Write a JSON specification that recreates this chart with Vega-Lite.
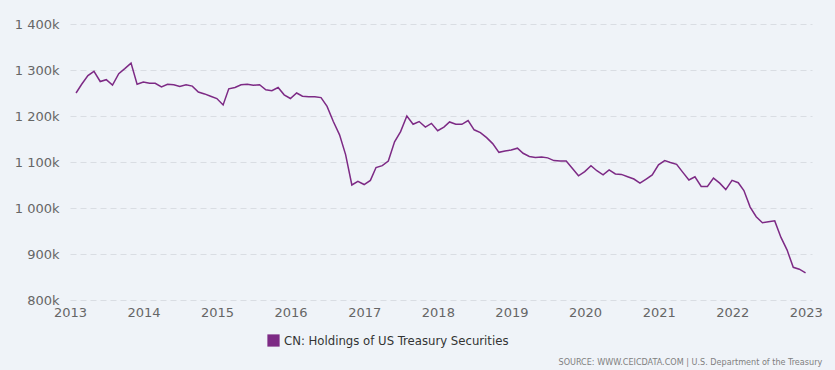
{
  "$schema": "https://vega.github.io/schema/vega-lite/v6.json",
  "width": 742,
  "height": 276,
  "padding": {"left": 70, "top": 24, "right": 23, "bottom": 70},
  "autosize": "none",
  "background": "#eff3f8",
  "title": {
    "text": "SOURCE: WWW.CEICDATA.COM | U.S. Department of the Treasury",
    "orient": "bottom",
    "anchor": "end",
    "font": "DejaVu Sans Condensed",
    "fontSize": 9,
    "fontWeight": "normal",
    "color": "#7f7f7f",
    "offset": 10
  },
  "data": {
    "values": [
      {"date": "2013-01-31", "value": 1250, "series": "CN: Holdings of US Treasury Securities"},
      {"date": "2013-02-28", "value": 1269, "series": "CN: Holdings of US Treasury Securities"},
      {"date": "2013-03-31", "value": 1288, "series": "CN: Holdings of US Treasury Securities"},
      {"date": "2013-04-30", "value": 1297, "series": "CN: Holdings of US Treasury Securities"},
      {"date": "2013-05-31", "value": 1275, "series": "CN: Holdings of US Treasury Securities"},
      {"date": "2013-06-30", "value": 1279, "series": "CN: Holdings of US Treasury Securities"},
      {"date": "2013-07-31", "value": 1267, "series": "CN: Holdings of US Treasury Securities"},
      {"date": "2013-08-31", "value": 1292, "series": "CN: Holdings of US Treasury Securities"},
      {"date": "2013-09-30", "value": 1303, "series": "CN: Holdings of US Treasury Securities"},
      {"date": "2013-10-31", "value": 1315, "series": "CN: Holdings of US Treasury Securities"},
      {"date": "2013-11-30", "value": 1269, "series": "CN: Holdings of US Treasury Securities"},
      {"date": "2013-12-31", "value": 1274, "series": "CN: Holdings of US Treasury Securities"},
      {"date": "2014-01-31", "value": 1271, "series": "CN: Holdings of US Treasury Securities"},
      {"date": "2014-02-28", "value": 1271, "series": "CN: Holdings of US Treasury Securities"},
      {"date": "2014-03-31", "value": 1263, "series": "CN: Holdings of US Treasury Securities"},
      {"date": "2014-04-30", "value": 1269, "series": "CN: Holdings of US Treasury Securities"},
      {"date": "2014-05-31", "value": 1268, "series": "CN: Holdings of US Treasury Securities"},
      {"date": "2014-06-30", "value": 1264, "series": "CN: Holdings of US Treasury Securities"},
      {"date": "2014-07-31", "value": 1268, "series": "CN: Holdings of US Treasury Securities"},
      {"date": "2014-08-31", "value": 1265, "series": "CN: Holdings of US Treasury Securities"},
      {"date": "2014-09-30", "value": 1252, "series": "CN: Holdings of US Treasury Securities"},
      {"date": "2014-10-31", "value": 1248, "series": "CN: Holdings of US Treasury Securities"},
      {"date": "2014-11-30", "value": 1243, "series": "CN: Holdings of US Treasury Securities"},
      {"date": "2014-12-31", "value": 1238, "series": "CN: Holdings of US Treasury Securities"},
      {"date": "2015-01-31", "value": 1224, "series": "CN: Holdings of US Treasury Securities"},
      {"date": "2015-02-28", "value": 1259, "series": "CN: Holdings of US Treasury Securities"},
      {"date": "2015-03-31", "value": 1262, "series": "CN: Holdings of US Treasury Securities"},
      {"date": "2015-04-30", "value": 1268, "series": "CN: Holdings of US Treasury Securities"},
      {"date": "2015-05-31", "value": 1269, "series": "CN: Holdings of US Treasury Securities"},
      {"date": "2015-06-30", "value": 1267, "series": "CN: Holdings of US Treasury Securities"},
      {"date": "2015-07-31", "value": 1268, "series": "CN: Holdings of US Treasury Securities"},
      {"date": "2015-08-31", "value": 1257, "series": "CN: Holdings of US Treasury Securities"},
      {"date": "2015-09-30", "value": 1255, "series": "CN: Holdings of US Treasury Securities"},
      {"date": "2015-10-31", "value": 1262, "series": "CN: Holdings of US Treasury Securities"},
      {"date": "2015-11-30", "value": 1246, "series": "CN: Holdings of US Treasury Securities"},
      {"date": "2015-12-31", "value": 1238, "series": "CN: Holdings of US Treasury Securities"},
      {"date": "2016-01-31", "value": 1250, "series": "CN: Holdings of US Treasury Securities"},
      {"date": "2016-02-29", "value": 1243, "series": "CN: Holdings of US Treasury Securities"},
      {"date": "2016-03-31", "value": 1242, "series": "CN: Holdings of US Treasury Securities"},
      {"date": "2016-04-30", "value": 1242, "series": "CN: Holdings of US Treasury Securities"},
      {"date": "2016-05-31", "value": 1240, "series": "CN: Holdings of US Treasury Securities"},
      {"date": "2016-06-30", "value": 1221, "series": "CN: Holdings of US Treasury Securities"},
      {"date": "2016-07-31", "value": 1188, "series": "CN: Holdings of US Treasury Securities"},
      {"date": "2016-08-31", "value": 1159, "series": "CN: Holdings of US Treasury Securities"},
      {"date": "2016-09-30", "value": 1116, "series": "CN: Holdings of US Treasury Securities"},
      {"date": "2016-10-31", "value": 1050, "series": "CN: Holdings of US Treasury Securities"},
      {"date": "2016-11-30", "value": 1058, "series": "CN: Holdings of US Treasury Securities"},
      {"date": "2016-12-31", "value": 1051, "series": "CN: Holdings of US Treasury Securities"},
      {"date": "2017-01-31", "value": 1060, "series": "CN: Holdings of US Treasury Securities"},
      {"date": "2017-02-28", "value": 1088, "series": "CN: Holdings of US Treasury Securities"},
      {"date": "2017-03-31", "value": 1092, "series": "CN: Holdings of US Treasury Securities"},
      {"date": "2017-04-30", "value": 1102, "series": "CN: Holdings of US Treasury Securities"},
      {"date": "2017-05-31", "value": 1144, "series": "CN: Holdings of US Treasury Securities"},
      {"date": "2017-06-30", "value": 1166, "series": "CN: Holdings of US Treasury Securities"},
      {"date": "2017-07-31", "value": 1200, "series": "CN: Holdings of US Treasury Securities"},
      {"date": "2017-08-31", "value": 1182, "series": "CN: Holdings of US Treasury Securities"},
      {"date": "2017-09-30", "value": 1188, "series": "CN: Holdings of US Treasury Securities"},
      {"date": "2017-10-31", "value": 1176, "series": "CN: Holdings of US Treasury Securities"},
      {"date": "2017-11-30", "value": 1184, "series": "CN: Holdings of US Treasury Securities"},
      {"date": "2017-12-31", "value": 1168, "series": "CN: Holdings of US Treasury Securities"},
      {"date": "2018-01-31", "value": 1176, "series": "CN: Holdings of US Treasury Securities"},
      {"date": "2018-02-28", "value": 1187, "series": "CN: Holdings of US Treasury Securities"},
      {"date": "2018-03-31", "value": 1182, "series": "CN: Holdings of US Treasury Securities"},
      {"date": "2018-04-30", "value": 1182, "series": "CN: Holdings of US Treasury Securities"},
      {"date": "2018-05-31", "value": 1190, "series": "CN: Holdings of US Treasury Securities"},
      {"date": "2018-06-30", "value": 1170, "series": "CN: Holdings of US Treasury Securities"},
      {"date": "2018-07-31", "value": 1164, "series": "CN: Holdings of US Treasury Securities"},
      {"date": "2018-08-31", "value": 1153, "series": "CN: Holdings of US Treasury Securities"},
      {"date": "2018-09-30", "value": 1140, "series": "CN: Holdings of US Treasury Securities"},
      {"date": "2018-10-31", "value": 1121, "series": "CN: Holdings of US Treasury Securities"},
      {"date": "2018-11-30", "value": 1124, "series": "CN: Holdings of US Treasury Securities"},
      {"date": "2018-12-31", "value": 1126, "series": "CN: Holdings of US Treasury Securities"},
      {"date": "2019-01-31", "value": 1130, "series": "CN: Holdings of US Treasury Securities"},
      {"date": "2019-02-28", "value": 1119, "series": "CN: Holdings of US Treasury Securities"},
      {"date": "2019-03-31", "value": 1112, "series": "CN: Holdings of US Treasury Securities"},
      {"date": "2019-04-30", "value": 1110, "series": "CN: Holdings of US Treasury Securities"},
      {"date": "2019-05-31", "value": 1111, "series": "CN: Holdings of US Treasury Securities"},
      {"date": "2019-06-30", "value": 1109, "series": "CN: Holdings of US Treasury Securities"},
      {"date": "2019-07-31", "value": 1103, "series": "CN: Holdings of US Treasury Securities"},
      {"date": "2019-08-31", "value": 1102, "series": "CN: Holdings of US Treasury Securities"},
      {"date": "2019-09-30", "value": 1102, "series": "CN: Holdings of US Treasury Securities"},
      {"date": "2019-10-31", "value": 1086, "series": "CN: Holdings of US Treasury Securities"},
      {"date": "2019-11-30", "value": 1070, "series": "CN: Holdings of US Treasury Securities"},
      {"date": "2019-12-31", "value": 1079, "series": "CN: Holdings of US Treasury Securities"},
      {"date": "2020-01-31", "value": 1092, "series": "CN: Holdings of US Treasury Securities"},
      {"date": "2020-02-29", "value": 1081, "series": "CN: Holdings of US Treasury Securities"},
      {"date": "2020-03-31", "value": 1072, "series": "CN: Holdings of US Treasury Securities"},
      {"date": "2020-04-30", "value": 1083, "series": "CN: Holdings of US Treasury Securities"},
      {"date": "2020-05-31", "value": 1074, "series": "CN: Holdings of US Treasury Securities"},
      {"date": "2020-06-30", "value": 1073, "series": "CN: Holdings of US Treasury Securities"},
      {"date": "2020-07-31", "value": 1068, "series": "CN: Holdings of US Treasury Securities"},
      {"date": "2020-08-31", "value": 1063, "series": "CN: Holdings of US Treasury Securities"},
      {"date": "2020-09-30", "value": 1054, "series": "CN: Holdings of US Treasury Securities"},
      {"date": "2020-10-31", "value": 1063, "series": "CN: Holdings of US Treasury Securities"},
      {"date": "2020-11-30", "value": 1072, "series": "CN: Holdings of US Treasury Securities"},
      {"date": "2020-12-31", "value": 1094, "series": "CN: Holdings of US Treasury Securities"},
      {"date": "2021-01-31", "value": 1103, "series": "CN: Holdings of US Treasury Securities"},
      {"date": "2021-02-28", "value": 1099, "series": "CN: Holdings of US Treasury Securities"},
      {"date": "2021-03-31", "value": 1095, "series": "CN: Holdings of US Treasury Securities"},
      {"date": "2021-04-30", "value": 1078, "series": "CN: Holdings of US Treasury Securities"},
      {"date": "2021-05-31", "value": 1061, "series": "CN: Holdings of US Treasury Securities"},
      {"date": "2021-06-30", "value": 1068, "series": "CN: Holdings of US Treasury Securities"},
      {"date": "2021-07-31", "value": 1047, "series": "CN: Holdings of US Treasury Securities"},
      {"date": "2021-08-31", "value": 1047, "series": "CN: Holdings of US Treasury Securities"},
      {"date": "2021-09-30", "value": 1065, "series": "CN: Holdings of US Treasury Securities"},
      {"date": "2021-10-31", "value": 1054, "series": "CN: Holdings of US Treasury Securities"},
      {"date": "2021-11-30", "value": 1040, "series": "CN: Holdings of US Treasury Securities"},
      {"date": "2021-12-31", "value": 1060, "series": "CN: Holdings of US Treasury Securities"},
      {"date": "2022-01-31", "value": 1055, "series": "CN: Holdings of US Treasury Securities"},
      {"date": "2022-02-28", "value": 1038, "series": "CN: Holdings of US Treasury Securities"},
      {"date": "2022-03-31", "value": 1002, "series": "CN: Holdings of US Treasury Securities"},
      {"date": "2022-04-30", "value": 981, "series": "CN: Holdings of US Treasury Securities"},
      {"date": "2022-05-31", "value": 968, "series": "CN: Holdings of US Treasury Securities"},
      {"date": "2022-06-30", "value": 970, "series": "CN: Holdings of US Treasury Securities"},
      {"date": "2022-07-31", "value": 972, "series": "CN: Holdings of US Treasury Securities"},
      {"date": "2022-08-31", "value": 936, "series": "CN: Holdings of US Treasury Securities"},
      {"date": "2022-09-30", "value": 909, "series": "CN: Holdings of US Treasury Securities"},
      {"date": "2022-10-31", "value": 871, "series": "CN: Holdings of US Treasury Securities"},
      {"date": "2022-11-30", "value": 867, "series": "CN: Holdings of US Treasury Securities"},
      {"date": "2022-12-31", "value": 859, "series": "CN: Holdings of US Treasury Securities"}
    ]
  },
  "mark": {"type": "line", "strokeWidth": 1.5, "interpolate": "linear"},
  "encoding": {
    "x": {
      "field": "date",
      "type": "temporal",
      "scale": {"type": "utc", "domain": ["2013-01-01", "2023-02-01"]},
      "axis": {
        "title": null,
        "format": "%Y",
        "formatType": "utc",
        "tickCount": {"interval": "year", "step": 1},
        "grid": false,
        "domain": false,
        "ticks": false,
        "labelFlush": false,
        "labelPadding": 6,
        "labelFont": "DejaVu Sans",
        "labelFontSize": 13,
        "labelColor": "#666666"
      }
    },
    "y": {
      "field": "value",
      "type": "quantitative",
      "scale": {"domain": [800, 1400], "nice": false, "zero": false},
      "axis": {
        "title": null,
        "values": [800, 900, 1000, 1100, 1200, 1300, 1400],
        "labelExpr": "replace(format(datum.value, ','), ',', ' ') + 'k'",
        "domain": false,
        "ticks": false,
        "grid": true,
        "gridColor": "#d9dde3",
        "gridDash": [6, 4],
        "gridWidth": 1,
        "labelPadding": 11,
        "labelFont": "DejaVu Sans",
        "labelFontSize": 13,
        "labelColor": "#666666"
      }
    },
    "color": {
      "field": "series",
      "type": "nominal",
      "scale": {"range": ["#7d2a85"]},
      "legend": {
        "title": null,
        "orient": "none",
        "legendX": 197,
        "legendY": 310,
        "direction": "horizontal",
        "symbolType": "square",
        "symbolSize": 150,
        "symbolStrokeWidth": 0,
        "symbolOpacity": 1,
        "labelFont": "DejaVu Sans Condensed",
        "labelFontSize": 13,
        "labelFontWeight": "normal",
        "labelColor": "#333333",
        "labelLimit": 400
      }
    }
  },
  "config": {
    "view": {"stroke": null},
    "legend": {"symbolFillColor": "#7d2a85"}
  }
}
